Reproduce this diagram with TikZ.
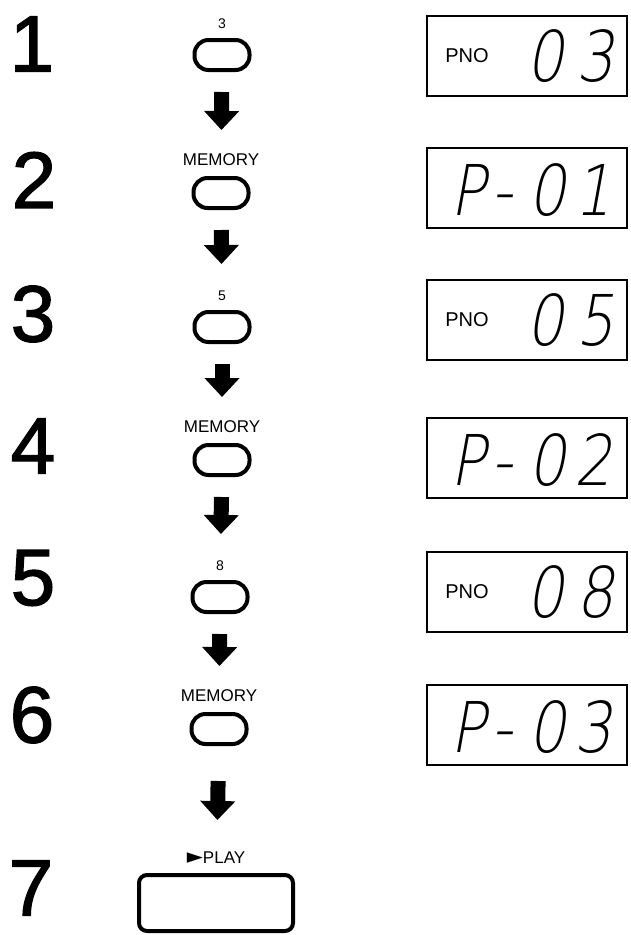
\documentclass[tikz,border=0pt]{standalone}
\usepackage{fontspec}
\setmainfont{Liberation Sans}
\newfontfamily\numfont[FakeBold=1.6]{Liberation Sans}
\newfontfamily\segfont[FakeSlant=0.18,FakeStretch=0.84]{DejaVu Sans ExtraLight}
\newfontfamily\symfont{DejaVu Sans}
\usetikzlibrary{positioning, arrows.meta}

\begin{document}
\begin{tikzpicture}[x=1pt, y=-1pt,
            stepnum/.style={inner sep=0pt, font=\numfont\fontsize{80}{80}\selectfont},
            key/.style={draw, line width=4pt, rounded corners=14pt, minimum width=55pt, minimum height=30pt},
            playkey/.style={draw, line width=4pt, rounded corners=8pt, minimum width=154pt, minimum height=56pt},
            keylabel/.style={inner sep=0pt, font=\fontsize{14}{14}\selectfont},
            memlabel/.style={inner sep=0pt, font=\fontsize{17}{17}\selectfont},
            lcd/.style={draw, line width=1.2pt, minimum width=200pt, minimum height=80pt},
            lcdtag/.style={inner sep=0pt, font=\fontsize{20}{20}\selectfont},
            lcdtext/.style={inner sep=0pt, font=\segfont\fontsize{70}{70}\selectfont},
            arrow/.style={-{Triangle[width=34pt,length=19pt]}, line width=15pt, shorten <=20pt, shorten >=46pt}
        ]
            \useasboundingbox (0,0) rectangle (630,935);

            % step numbers
            \node[stepnum] (n1) at (32,44) {1};
            \node[stepnum] (n2) at (34,180) {2};
            \node[stepnum] (n3) at (33,314) {3};
            \node[stepnum] (n4) at (33,446) {4};
            \node[stepnum] (n5) at (33,578) {5};
            \node[stepnum] (n6) at (32,715) {6};
            \node[stepnum] (n7) at (31,888) {7};

            % keys
            \node[key] (b1) at (222,55) {};
            \node[key] (b2) at (221,193) {};
            \node[key] (b3) at (222,327) {};
            \node[key] (b4) at (222,460) {};
            \node[key] (b5) at (220,597) {};
            \node[key] (b6) at (219,729) {};
            \node[playkey] (play) at (216,903) {};

            \node[keylabel, above=9pt of b1] (l1) {3};
            \node[memlabel, above=10pt of b2] (l2) {MEMORY};
            \node[keylabel, above=9pt of b3] (l3) {5};
            \node[memlabel, above=10pt of b4] (l4) {MEMORY};
            \node[keylabel, above=9pt of b5] (l5) {8};
            \node[memlabel, above=10pt of b6] (l6) {MEMORY};
            \node[memlabel, above=9pt of play] (l7) {{\symfont\fontsize{21}{21}\selectfont ►}PLAY};

            \draw[arrow] (b1) -- (b2);
            \draw[arrow] (b2) -- (b3);
            \draw[arrow] (b3) -- (b4);
            \draw[arrow] (b4) -- (b5);
            \draw[arrow] (b5) -- (b6);
            \draw[arrow, shorten <=35pt, shorten >=53pt] (b6) -- (play);

            % displays
            \node[lcd] (d1) at (527,56) {};
            \node[lcd] (d2) at (527,188) {};
            \node[lcd] (d3) at (527,320) {};
            \node[lcd] (d4) at (527,458) {};
            \node[lcd] (d5) at (527,592) {};
            \node[lcd] (d6) at (527,725) {};

            \node[lcdtag] (t1) at (467,56) {PNO};
            \node[lcdtext, anchor=east] (v1) at (614,56) {0\hspace{12pt}3};
            \node[lcdtext, anchor=west] (v2) at (450,190) {P\hspace{6pt}-\hspace{16pt}0\hspace{8pt}1};
            \node[lcdtag] (t3) at (467,320) {PNO};
            \node[lcdtext, anchor=east] (v3) at (614,320) {0\hspace{12pt}5};
            \node[lcdtext, anchor=west] (v4) at (450,460) {P\hspace{6pt}-\hspace{16pt}0\hspace{8pt}2};
            \node[lcdtag] (t5) at (467,592) {PNO};
            \node[lcdtext, anchor=east] (v5) at (614,592) {0\hspace{12pt}8};
            \node[lcdtext, anchor=west] (v6) at (450,727) {P\hspace{6pt}-\hspace{16pt}0\hspace{8pt}3};

        \end{tikzpicture}
\end{document}
